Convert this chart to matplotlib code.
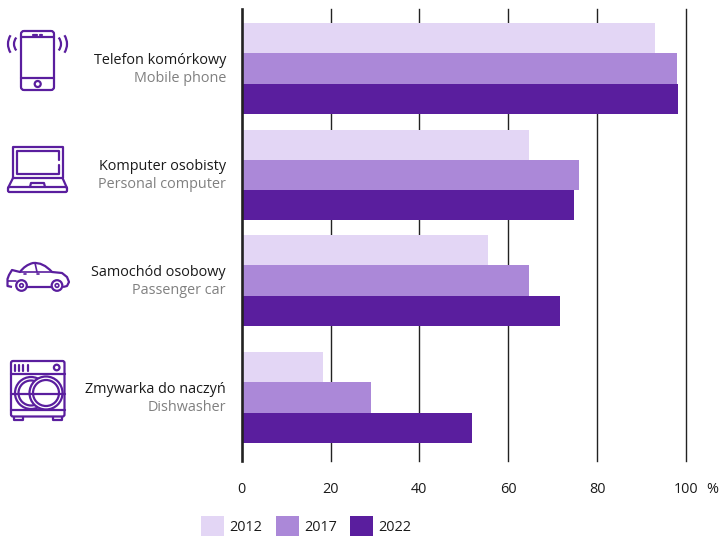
import matplotlib
matplotlib.use('Agg')
import matplotlib.pyplot as plt
from matplotlib.patches import Rectangle, FancyBboxPatch, Circle, Arc, PathPatch
from matplotlib.path import Path

plt.rcParams['font.family'] = ['Open Sans', 'DejaVu Sans']

# Dane
nazwy_pl = ['Telefon komórkowy', 'Komputer osobisty', 'Samochód osobowy', 'Zmywarka do naczyń']
nazwy_en = ['Mobile phone', 'Personal computer', 'Passenger car', 'Dishwasher']
lata = ['2012', '2017', '2022']
v2012 = [93.0, 64.6, 55.4, 18.2]
v2017 = [98.0, 75.9, 64.6, 29.0]
v2022 = [98.2, 74.8, 71.6, 51.8]
ticks = [0, 20, 40, 60, 80, 100]

kolory = ['#e3d6f5', '#ab88d8', '#5a1e9e']
fiolet = '#5a1e9e'
srodki = [68.5, 175, 280.5, 397.5]  # srodki grup w pikselach
W, H = 719, 536
rozmiar = 10.4

fig = plt.figure(figsize=(W / 100, H / 100), dpi=100)

# Os wykresu: x w procentach, y w pikselach obrazu
x0, x1 = 241.8, 685.8
ax = fig.add_axes([x0 / W, 1 - 461 / H, (x1 - x0) / W, 452 / H])
ax.set_xlim(0, 100)
ax.set_ylim(461, 9)
ax.set_facecolor('none')
for s in ax.spines.values():
    s.set_visible(False)
ax.set_yticks([])
ax.set_xticks(ticks)
ax.tick_params(axis='x', length=0, pad=15, labelsize=rozmiar, labelcolor='#1a1a1a')
for t in ticks:
    ax.axvline(t, color='#222222', lw=1.9 if t == 0 else 1.0, zorder=1 if t else 3, clip_on=False)
for i, serie in enumerate([v2012, v2017, v2022]):
    for sr, v in zip(srodki, serie):
        ax.barh(sr + (i - 1) * 30.2, v, height=30.2, color=kolory[i], lw=0, zorder=2)
ax.text(105.9, 490, '%', ha='center', va='center', fontsize=rozmiar, color='#1a1a1a', clip_on=False)

# Warstwa w pikselach na etykiety, ikony i legende
ov = fig.add_axes([0, 0, 1, 1])
ov.set_xlim(0, W)
ov.set_ylim(H, 0)
ov.axis('off')
ov.patch.set_alpha(0)

for sr, pl, en in zip(srodki, nazwy_pl, nazwy_en):
    ov.text(226, sr - 8, pl, ha='right', va='center', fontsize=rozmiar, color='#1a1a1a')
    ov.text(226, sr + 10, en, ha='right', va='center', fontsize=rozmiar, color='#808080')

lw = 1.6


def box(x, y, w, h, r=1.5):
    ov.add_patch(FancyBboxPatch((x + r, y + r), w - 2 * r, h - 2 * r, boxstyle=f'round,pad={r}',
                                fc='none', ec=fiolet, lw=lw))


def linia(xs, ys, lw_=lw, z=4):
    ov.plot(xs, ys, color=fiolet, lw=lw_, solid_capstyle='round', zorder=z)


# Telefon
box(21, 31, 33, 59, 3)
linia([21, 54], [37, 37])
linia([21, 54], [77.5, 77.5])
linia([33, 37], [34.5, 34.5])
linia([40, 42], [34.5, 34.5])
ov.add_patch(Circle((37.7, 84), 3, fc='none', ec=fiolet, lw=lw))
for cx, d, a1, a2 in [(24, 20, 140, 220), (24, 32, 147, 213), (51, 20, -40, 40), (51, 32, -33, 33)]:
    ov.add_patch(Arc((cx, 44), d, d, theta1=a1, theta2=a2, ec=fiolet, lw=lw))

# Laptop
linia([13, 13, 62.5, 62.5, 13], [178, 146.5, 146.5, 178, 178])
linia([59, 59, 17, 17, 59, 59], [160, 150.5, 150.5, 174, 174, 165])
box(8, 187, 59, 5, 1.5)
linia([13, 8], [178, 188])
linia([62.5, 67], [178, 188])
linia([30, 31, 44, 45], [187, 183, 183, 187])

# Samochod
nadwozie = Path([(12, 287), (7.5, 286), (7.5, 279), (9, 275), (12, 270), (16, 271), (20, 272),
                 (25, 265), (33, 263), (43, 262), (52, 272), (62, 273), (67, 277), (69, 282),
                 (67, 286), (63, 287)],
                [Path.MOVETO, Path.LINETO, Path.LINETO, Path.LINETO, Path.LINETO, Path.LINETO,
                 Path.LINETO, Path.CURVE3, Path.CURVE3, Path.CURVE3, Path.CURVE3, Path.LINETO,
                 Path.LINETO, Path.LINETO, Path.LINETO, Path.LINETO])
ov.add_patch(PathPatch(nadwozie, fc='none', ec=fiolet, lw=lw, joinstyle='round'))
linia([27, 51], [287, 287])
linia([8, 16], [281, 281], 1.2)
linia([20, 52], [272, 272], 1.2)
linia([35, 37], [263, 272], 1.2)
linia([24, 26], [274, 274], 1.2)
linia([37, 39], [274, 274], 1.2)
for cx in (21.5, 57):
    ov.add_patch(Circle((cx, 285.5), 5.3, fc='white', ec=fiolet, lw=lw, zorder=5))
    ov.add_patch(Circle((cx, 285.5), 1.8, fc='none', ec=fiolet, lw=1.2, zorder=5))

# Zmywarka
box(11, 361, 53.5, 55.5, 2)
for cx, r_, z in [(31, 16, 2), (46, 16.5, 3)]:
    ov.add_patch(Circle((cx, 393), r_, fc='white', ec=fiolet, lw=lw, zorder=z))
    ov.add_patch(Circle((cx, 393), r_ - 3.5, fc='none', ec=fiolet, lw=lw, zorder=z))
linia([11, 64.5], [373.5, 373.5], z=1)
linia([11, 64.5], [394, 394])
linia([11, 64.5], [410, 410])
for x in (15, 19, 23.3, 27.7):
    linia([x, x], [365, 371])
ov.add_patch(Circle((56.7, 367.5), 2.8, fc='none', ec=fiolet, lw=lw))
linia([14, 14, 23, 23], [416.5, 420, 420, 416.5])
linia([52.5, 52.5, 62, 62], [416.5, 420, 420, 416.5])

# Legenda
lx = [201, 276, 350]
tx = [229.5, 304.5, 378.5]
for x, tx_, k, rok in zip(lx, tx, kolory, lata):
    ov.add_patch(Rectangle((x, 516), 23, 20, fc=k, ec='none'))
    ov.text(tx_, 527.5, rok, ha='left', va='center', fontsize=rozmiar, color='#1a1a1a')

fig.savefig('out.png', dpi=100)
